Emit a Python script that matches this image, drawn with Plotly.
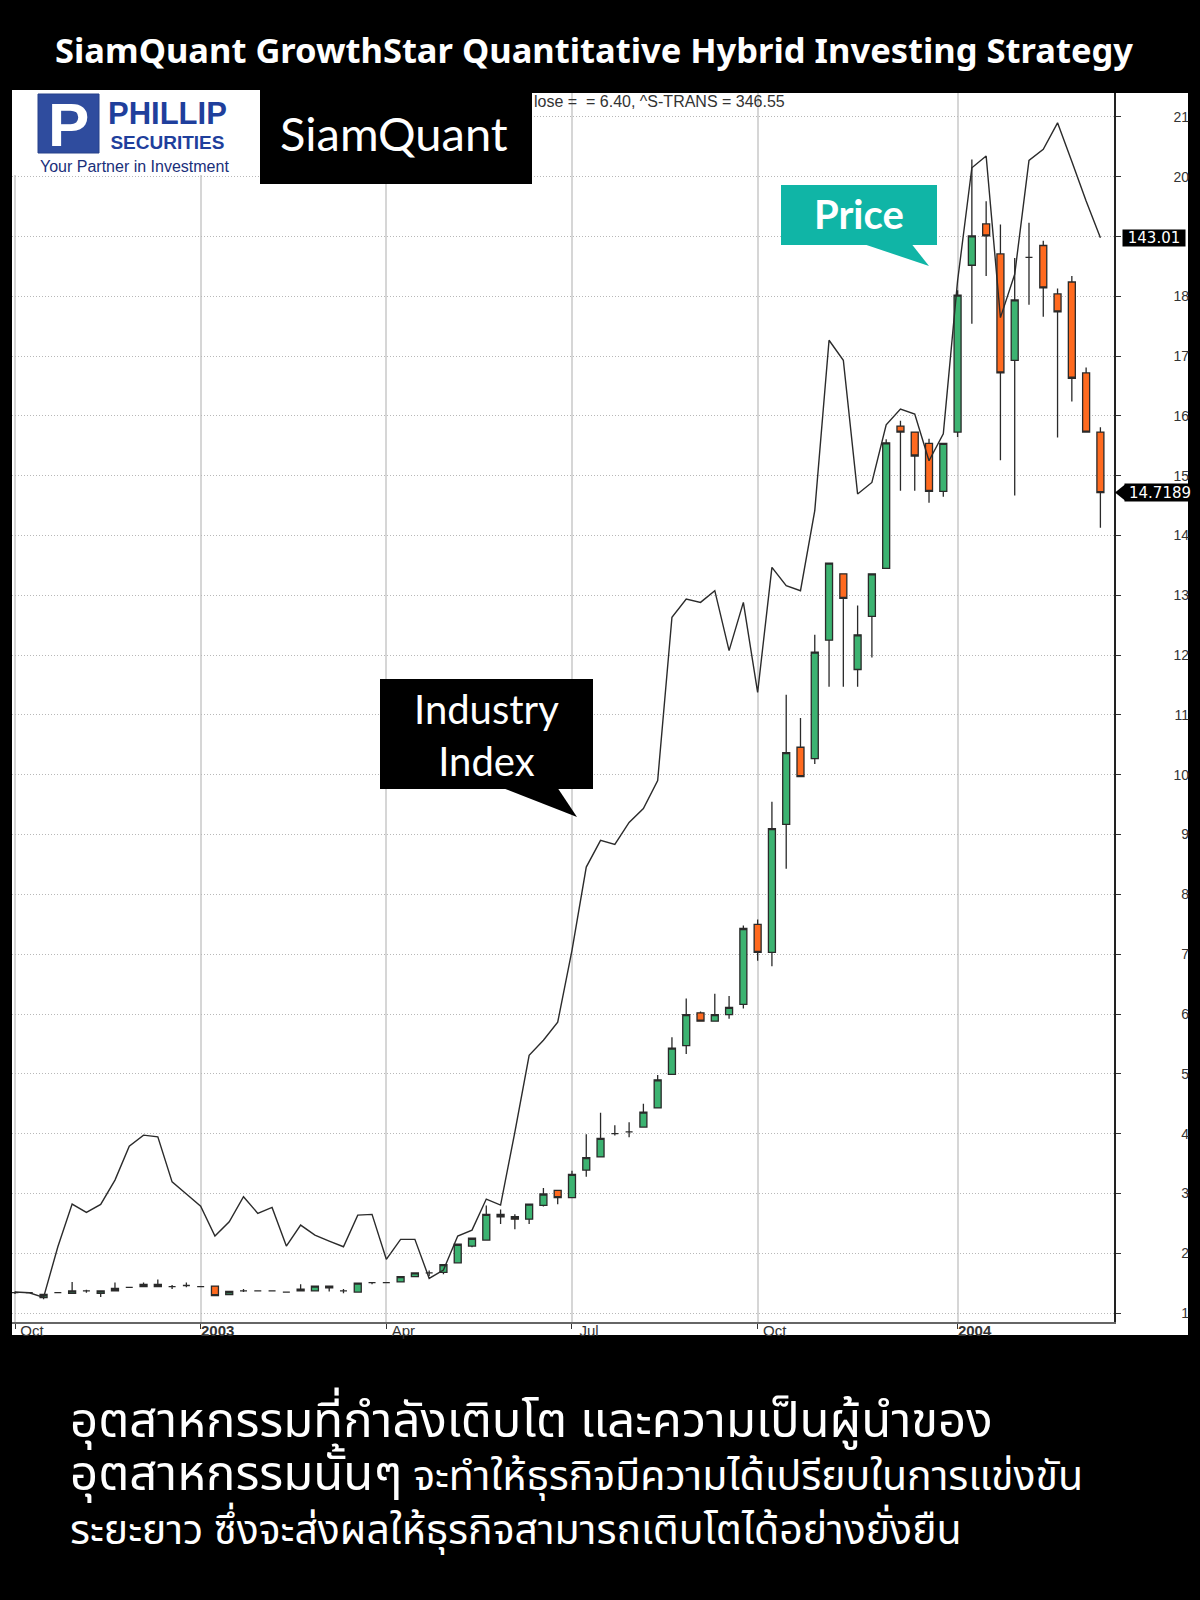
import plotly.graph_objects as go
import pandas as pd

W, H = 1200, 1600

# ---------------- data ----------------
weeks = pd.date_range("2002-10-04", periods=77, freq="7D")

open_ = [1.34,1.34,1.26,1.34,1.33,1.37,1.33,1.37,1.43,1.44,
         1.48,1.44,1.46,1.44,1.45,1.31,1.37,1.37,1.37,1.35,
         1.40,1.37,1.45,1.37,1.35,1.51,1.51,1.52,1.61,1.67,
         1.68,1.84,2.12,2.22,2.65,2.61,2.57,2.80,3.05,2.93,
         3.39,3.61,4.00,4.03,4.11,4.43,4.99,5.47,6.02,5.88,
         5.99,6.16,7.50,7.03,9.17,10.46,10.27,12.25,13.36,11.76,
         12.65,13.45,15.83,15.73,15.54,14.74,15.73,18.52,19.21,18.71,
         16.93,18.65,18.85,18.04,18.24,16.72,15.73]
high = [1.36,1.35,1.32,1.35,1.52,1.39,1.37,1.51,1.44,1.51,
        1.56,1.47,1.51,1.45,1.45,1.36,1.40,1.38,1.38,1.36,
        1.48,1.45,1.45,1.40,1.50,1.52,1.52,1.61,1.67,1.71,
        1.81,2.15,2.25,2.80,2.73,2.65,2.83,3.09,3.05,3.38,
        3.99,4.35,4.14,4.19,4.50,4.98,5.61,6.26,6.04,6.34,
        6.30,7.48,7.58,9.55,11.34,10.95,12.34,13.54,13.36,12.83,
        13.36,15.61,15.92,15.73,15.62,15.55,18.10,20.29,19.59,19.20,
        18.64,19.23,18.93,18.13,18.34,16.81,15.81]
low = [1.32,1.33,1.23,1.33,1.33,1.34,1.27,1.37,1.42,1.44,
       1.44,1.40,1.43,1.43,1.29,1.31,1.35,1.36,1.36,1.34,
       1.37,1.37,1.36,1.33,1.35,1.48,1.50,1.52,1.61,1.62,
       1.65,1.84,2.10,2.22,2.49,2.40,2.49,2.78,2.82,2.93,
       3.28,3.61,3.97,3.94,4.10,4.42,4.99,5.33,5.88,5.88,
       5.92,6.09,6.89,6.80,8.43,9.97,10.18,11.47,11.47,11.47,
       11.96,13.45,14.75,14.75,14.55,14.65,15.65,17.54,18.34,15.26,
       14.67,17.86,17.66,15.64,16.24,15.73,14.13]
close = [1.34,1.34,1.31,1.34,1.37,1.37,1.37,1.41,1.43,1.48,
         1.44,1.44,1.46,1.44,1.29,1.36,1.37,1.37,1.37,1.35,
         1.37,1.45,1.42,1.37,1.50,1.51,1.51,1.61,1.67,1.67,
         1.81,2.15,2.25,2.65,2.61,2.57,2.82,2.99,2.93,3.32,
         3.60,3.92,4.00,4.03,4.36,4.90,5.43,5.99,5.88,5.99,
         6.11,7.43,7.03,9.10,10.37,9.97,12.05,13.54,12.95,12.34,
         13.36,15.55,15.73,15.33,14.74,15.54,18.02,19.01,19.01,16.72,
         17.94,18.65,18.14,17.74,16.63,15.73,14.7189]
industry = [10.18,10.09,9.51,15.88,21.26,20.21,21.22,24.28,28.56,29.94,
            29.73,24.06,22.52,21.00,17.23,19.03,22.18,20.09,20.84,15.97,
            18.61,17.35,16.60,15.88,19.87,19.96,14.30,16.81,16.81,11.90,
            12.95,17.23,17.98,21.89,21.13,30.32,40.01,41.90,44.17,53.23,
            63.72,67.08,66.57,69.34,71.10,74.63,95.19,97.50,97.07,98.54,
            90.99,97.07,85.74,101.48,99.17,98.54,108.62,130.10,127.58,110.72,
            112.18,119.44,121.42,120.79,114.91,118.31,137.57,151.83,153.31,132.95,
            138.41,152.76,154.15,157.49,152.63,147.64,143.01]

price_ticks = list(range(1, 22))
# the "19" label sits under the 143.01 value marker in the reference
price_tick_text = ["1", "2", "3", "4", "5", "6", "7", "8", "9", "10", "11",
                   "12", "13", "14", "15", "16", "17", "18", "", "20", "21"]
date_tickvals = ["2002-10-04", "2003-01-03", "2003-04-04", "2003-07-04", "2003-10-03", "2004-01-09"]
date_ticktext = ["Oct", "<b>2003</b>", "Apr", "Jul", "Oct", "<b>2004</b>"]

PRICE_RANGE = [0.85, 21.40]
IND_RANGE = [6.40, 161.25]
X_RANGE = ["2002-10-02 12:40", "2004-03-25 16:00"]

title = "SiamQuant GrowthStar Quantitative Hybrid Investing Strategy"
header_info = "lose =  = 6.40, ^S-TRANS = 346.55"
thai_1 = "อุตสาหกรรมที่กำลังเติบโต และความเป็นผู้นำของ"
thai_2a = "อุตสาหกรรมนั้นๆ"
thai_2b = " จะทำให้ธุรกิจมีความได้เปรียบในการแข่งขัน"
thai_3 = "ระยะยาว ซึ่งจะส่งผลให้ธุรกิจสามารถเติบโตได้อย่างยั่งยืน"


def px(x):
    return x / W


def py(y):
    return 1 - y / H


# plot-area geometry (pixels)
PL, PR, PT, PB = 12, 1114, 93, 1322

fig = go.Figure()

fig.add_trace(go.Candlestick(
    x=weeks, open=open_, high=high, low=low, close=close,
    increasing=dict(fillcolor="#3cb371", line=dict(color="#2a2a2a", width=1.3)),
    decreasing=dict(fillcolor="#ff6a1f", line=dict(color="#2a2a2a", width=1.3)),
    whiskerwidth=0, showlegend=False, hoverinfo="skip", yaxis="y", xaxis="x",
))

fig.add_trace(go.Scatter(
    x=weeks, y=industry, mode="lines", yaxis="y2", xaxis="x",
    line=dict(color="#2b2b2b", width=1.4), showlegend=False, hoverinfo="skip",
))

# invisible trace so the label axis renders
fig.add_trace(go.Scatter(
    x=weeks, y=close, mode="lines", yaxis="y3", xaxis="x",
    line=dict(color="rgba(0,0,0,0)", width=0), showlegend=False, hoverinfo="skip",
))

ydom = [py(PB), py(PT)]

shapes = [
    # white right axis panel & bottom strip
    dict(type="rect", xref="paper", yref="paper", x0=px(PR), x1=px(1188), y0=py(1335), y1=py(PT),
         fillcolor="white", line=dict(width=0), layer="below"),
    dict(type="rect", xref="paper", yref="paper", x0=px(PL), x1=px(1188), y0=py(1335), y1=py(PB),
         fillcolor="white", line=dict(width=0), layer="below"),
    # Phillip logo white box
    dict(type="rect", xref="paper", yref="paper", x0=px(12), x1=px(260), y0=py(175), y1=py(90),
         fillcolor="white", line=dict(width=0), layer="above"),
    dict(type="rect", xref="paper", yref="paper", x0=px(38), x1=px(99), y0=py(153), y1=py(94),
         fillcolor="#2f4c9e", line=dict(color="#27408a", width=1), layer="above"),
    # SiamQuant black box
    dict(type="rect", xref="paper", yref="paper", x0=px(260), x1=px(532), y0=py(184), y1=py(90),
         fillcolor="black", line=dict(width=0), layer="above"),
    # Price callout
    dict(type="rect", xref="paper", yref="paper", x0=px(781), x1=px(937), y0=py(245), y1=py(185),
         fillcolor="#10b5a6", line=dict(width=0), layer="above"),
    dict(type="path", xref="paper", yref="paper",
         path=f"M {px(865)},{py(244.5)} L {px(912)},{py(244.5)} L {px(929)},{py(266)} Z",
         fillcolor="#10b5a6", line=dict(width=0), layer="above"),
    # Industry Index callout
    dict(type="rect", xref="paper", yref="paper", x0=px(380), x1=px(593), y0=py(789), y1=py(679),
         fillcolor="black", line=dict(width=0), layer="above"),
    dict(type="path", xref="paper", yref="paper",
         path=f"M {px(504)},{py(788.5)} L {px(558)},{py(788.5)} L {px(577)},{py(817)} Z",
         fillcolor="black", line=dict(width=0), layer="above"),
]

# arrow marker for last price label
unit_px = (PB - PT) / (PRICE_RANGE[1] - PRICE_RANGE[0])
d = 8 / unit_px
last = close[-1]
shapes.append(dict(type="path", xref="paper", yref="y",
                   path=f"M {px(1115)},{last} L {px(1125)},{last + d} L {px(1125)},{last - d} Z",
                   fillcolor="black", line=dict(width=0), layer="above"))

THAI = "Noto Sans Thai, Noto Sans, sans-serif"
thai_text = (
    f"<span style='font-size:49px'>{thai_1}</span><br>"
    f"<span style='font-size:49px'>{thai_2a}</span>{thai_2b}<br>"
    f"{thai_3}"
)

annotations = [
    dict(text=f"<b>{title}</b>", x=px(594), y=py(49), xref="paper", yref="paper",
         showarrow=False, xanchor="center", yanchor="middle",
         font=dict(family="Noto Sans", size=34.5, color="white")),
    dict(text=header_info, x=px(532), y=py(102), xref="paper", yref="paper",
         showarrow=False, xanchor="left", yanchor="middle",
         font=dict(family="Arial, Liberation Sans", size=16, color="#333")),
    dict(text="<b>P</b>", x=px(68.5), y=py(124), xref="paper", yref="paper",
         showarrow=False, xanchor="center", yanchor="middle",
         font=dict(family="Arial Black, Liberation Sans", size=62, color="white")),
    dict(text="<span style='font-size:31px'><b>PHILLIP</b></span><br><b>SECURITIES</b>",
         x=px(167), y=py(124), xref="paper", yref="paper",
         showarrow=False, xanchor="center", yanchor="middle", align="center",
         font=dict(family="Liberation Sans Narrow, Arial", size=19, color="#1f3f9c")),
    dict(text="Your Partner in Investment", x=px(134), y=py(166), xref="paper", yref="paper",
         showarrow=False, xanchor="center", yanchor="middle",
         font=dict(family="Arial, Liberation Sans", size=16, color="#1a2f7a")),
    dict(text="SiamQuant", x=px(394), y=py(133), xref="paper", yref="paper",
         showarrow=False, xanchor="center", yanchor="middle",
         font=dict(family="Lato", size=47, color="white")),
    dict(text="<b>Price</b>", x=px(859), y=py(214), xref="paper", yref="paper",
         showarrow=False, xanchor="center", yanchor="middle",
         font=dict(family="Lato", size=40, color="white")),
    dict(text="Industry<br>Index", x=px(486), y=py(735), xref="paper", yref="paper",
         showarrow=False, xanchor="center", yanchor="middle", align="center",
         font=dict(family="Lato", size=40, color="white")),
    dict(text=f"{industry[-1]:.2f}", x=px(1122), y=industry[-1], xref="paper", yref="y2",
         showarrow=False, xanchor="left", yanchor="middle", bgcolor="black", borderpad=0,
         width=62, height=16, align="center",
         font=dict(family="DejaVu Sans", size=15, color="white")),
    dict(text=f"{close[-1]:.4f}", x=px(1124), y=close[-1], xref="paper", yref="y",
         showarrow=False, xanchor="left", yanchor="middle", bgcolor="black", borderpad=0,
         width=70, height=17, align="center",
         font=dict(family="DejaVu Sans", size=15, color="white")),
    dict(text=thai_text, x=px(68), y=py(1473), xref="paper", yref="paper",
         showarrow=False, xanchor="left", yanchor="middle", align="left",
         font=dict(family=THAI, size=41, color="white")),
]

fig.update_layout(
    width=W, height=H,
    margin=dict(l=0, r=0, t=0, b=0, pad=0),
    paper_bgcolor="black", plot_bgcolor="white",
    showlegend=False,
    xaxis=dict(
        type="date", domain=[px(PL), px(PR)], range=X_RANGE, anchor="y",
        rangeslider=dict(visible=False),
        tickvals=date_tickvals, ticktext=date_ticktext,
        ticks="outside", ticklen=5, tickcolor="#333", tickwidth=1,
        showline=True, linecolor="#666", linewidth=2,
        showgrid=True, gridcolor="#d6d6d6", gridwidth=1.5,
        tickfont=dict(family="Arial, Liberation Sans", size=15, color="#333"),
        ticklabelshift=17, ticklabelstandoff=-11,
        zeroline=False, automargin=False,
    ),
    yaxis=dict(
        domain=ydom, range=PRICE_RANGE, side="right", anchor="x",
        tickvals=price_ticks, showticklabels=False,
        ticks="outside", ticklen=5, tickcolor="#333",
        showline=True, linecolor="#222", linewidth=1.5,
        showgrid=True, gridcolor="#b8b8b8", griddash="1px,2px", gridwidth=1,
        zeroline=False, automargin=False, fixedrange=True,
    ),
    yaxis2=dict(
        range=IND_RANGE, overlaying="y", side="right", anchor="x",
        visible=False, showgrid=False, zeroline=False,
    ),
    yaxis3=dict(
        range=PRICE_RANGE, overlaying="y", side="left", anchor="free", position=px(1189),
        tickvals=price_ticks, ticktext=price_tick_text, ticks="", showgrid=False,
        showline=False, zeroline=False, automargin=False,
        tickfont=dict(family="Arial, Liberation Sans", size=14, color="#333"),
    ),
    shapes=shapes,
    annotations=annotations,
)

fig.write_html(
    "out.html",
    config={"displayModeBar": False},
    post_script="document.body.style.margin='0';document.body.style.backgroundColor='black';",
)
